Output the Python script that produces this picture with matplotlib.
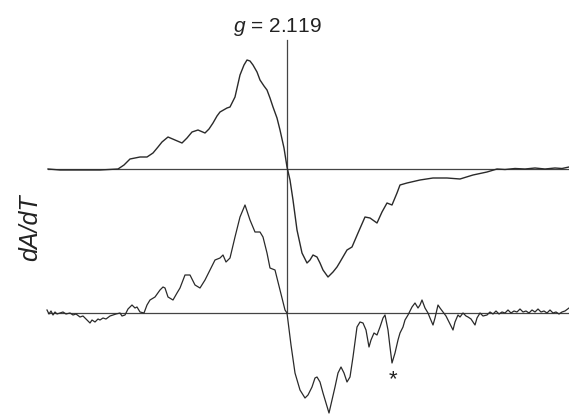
import matplotlib
matplotlib.use("Agg")
import matplotlib.pyplot as plt

plt.rcParams['font.family'] = ['Liberation Sans', 'DejaVu Sans']
plt.rcParams['mathtext.fontset'] = 'custom'
plt.rcParams['mathtext.it'] = 'Liberation Sans:italic'
plt.rcParams['mathtext.rm'] = 'Liberation Sans'

# Top trace (smooth spectrum)
top_x = [48, 60, 80, 100, 118, 124, 130, 140, 147, 153, 158, 162, 168, 175, 182, 187, 192, 198, 205, 209,
         213, 217, 220, 227, 230, 235, 240, 244, 247, 250, 253, 257, 260, 264, 267, 270, 273, 277, 280, 284,
         287, 290, 293, 297, 302, 307, 310, 313, 317, 320, 323, 328, 333, 337, 340, 347, 352, 358, 365, 370,
         377, 382, 387, 392, 397, 400, 407, 420, 433, 447, 460, 473, 487, 497, 505, 515, 525, 535, 545, 555,
         562, 569]
top_y = [169, 170, 170, 170, 169, 165, 159, 157, 157, 153, 147, 142, 137, 140, 143, 138, 132, 130, 133, 129,
         123, 116, 112, 108, 107, 97, 75, 65, 60, 61, 65, 72, 80, 86, 90, 98, 107, 118, 130, 148,
         167, 180, 200, 230, 253, 263, 260, 255, 257, 263, 270, 277, 272, 267, 262, 250, 247, 233, 217, 218,
         223, 212, 203, 205, 193, 185, 183, 180, 178, 178, 179, 175, 172, 169, 169.5, 168.5, 169, 168, 169, 168,
         168.5, 167]

# Bottom trace (noisy spectrum)
bot_x = [47, 49, 51, 53, 55, 57, 60, 63, 66, 70, 73, 76, 80, 83, 86, 88, 90, 92, 95, 98,
         100, 103, 106, 110, 113, 116, 120, 122, 125, 128, 132, 135, 137, 140, 144, 147, 150, 155, 160, 163,
         165, 168, 173, 177, 180, 185, 190, 195, 200, 205, 210, 215, 220, 223, 226, 230, 235, 240, 245, 250,
         255, 260, 263, 267, 270, 275, 280, 285, 287, 291, 295, 300, 305, 308, 312, 315, 317, 320, 323, 326,
         329, 332, 335, 338, 341, 344, 347, 350, 353, 357, 360, 363, 366, 369, 371, 374, 377, 380, 383, 385,
         388, 390, 392, 395, 398, 400, 403, 405, 408, 412, 415, 418, 420, 422, 425, 428, 430, 433, 435, 438,
         440, 443, 446, 448, 451, 453, 455, 458, 460, 463, 466, 468, 471, 473, 475, 477, 480, 483, 487, 490,
         493, 496, 499, 502, 505, 508, 511, 514, 517, 520, 523, 526, 529, 532, 535, 538, 541, 544, 547, 550,
         553, 556, 559, 562, 565, 569]
bot_y = [310, 314, 311, 315, 312, 314, 313, 312, 314, 313, 315, 314, 317, 316, 319, 321, 323, 320, 322, 319,
         320, 318, 319, 316, 315, 314, 313, 316, 315, 309, 305, 308, 307, 312, 313, 305, 300, 297, 290, 287,
         288, 297, 300, 293, 288, 275, 275, 285, 288, 280, 270, 260, 258, 255, 262, 258, 237, 217, 205, 220,
         232, 232, 237, 253, 268, 270, 290, 310, 313, 345, 373, 390, 398, 395, 387, 378, 377, 382, 393, 403,
         413, 400, 387, 373, 367, 373, 382, 377, 357, 327, 322, 323, 330, 347, 340, 333, 335, 327, 318, 315,
         330, 347, 363, 353, 340, 333, 327, 320, 315, 307, 303, 308, 305, 300, 308, 313, 318, 325, 318, 305,
         308, 312, 316, 320, 326, 330, 322, 315, 317, 313, 316, 317, 319, 322, 325, 318, 313, 316, 315, 312,
         314, 311, 314, 312, 313, 310, 313, 311, 312, 309, 312, 311, 313, 310, 312, 309, 312, 311, 313, 310,
         313, 312, 314, 312, 311, 308]

top_base = 169
bot_base = 313
base_x = [48, 569]
g_x = 287
g_label = "$g$ = 2.119"
y_label = "dA/dT"
star_pos = (393, 377)

fig = plt.figure(figsize=(5.69, 4.15), dpi=100)
ax = fig.add_axes([0, 0, 1, 1])
ax.set_xlim(0, 569)
ax.set_ylim(415, 0)
ax.axis('off')

lc = '#2a2a2a'
ax.plot(base_x, [top_base, top_base], color='#444444', lw=0.9)
ax.plot(base_x, [bot_base, bot_base], color='#444444', lw=0.9)
ax.plot([g_x, g_x], [40, bot_base], color='#444444', lw=0.9)
ax.plot(top_x, top_y, color=lc, lw=1.0)
ax.plot(bot_x, bot_y, color=lc, lw=0.9)

ax.text(277, 32, g_label, ha='center', va='baseline', fontsize=15, color='#222222')
ax.text(30, 228, y_label, ha='center', va='center', rotation=90, fontsize=18,
        style='italic', color='#222222')
ax.text(star_pos[0], star_pos[1] + 3, "*", ha='center', va='center', fontsize=16, color='#222222')

fig.savefig("out.png", dpi=100)
